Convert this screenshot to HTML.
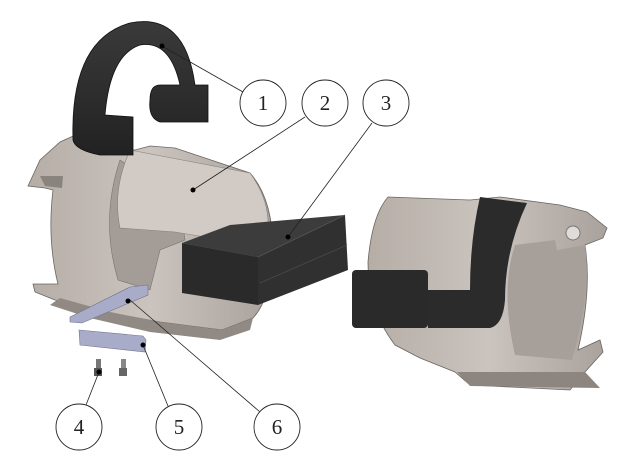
<!DOCTYPE html>
<html><head><meta charset="utf-8"><style>
html,body{margin:0;padding:0;background:#fff;width:633px;height:473px;overflow:hidden}
svg{display:block}
text{font-family:"Liberation Serif",serif;font-size:21px;fill:#222}
</style></head><body>
<svg width="633" height="473" viewBox="0 0 633 473">
<defs>
<linearGradient id="g1" x1="0" y1="0" x2="1" y2="0"><stop offset="0" stop-color="#b5ada6"/><stop offset="0.5" stop-color="#cbc4be"/><stop offset="1" stop-color="#a9a19b"/></linearGradient>
<linearGradient id="gk" x1="0" y1="0" x2="0" y2="1"><stop offset="0" stop-color="#3a3a3a"/><stop offset="1" stop-color="#222"/></linearGradient>
</defs>
<!-- left body -->
<path d="M28,186 L40,160 L60,142 L80,133 L100,150 L135,150 L150,146 L175,148 L250,173 Q274,200 273,255 Q270,300 253,318 L222,330 L160,322 L110,313 L80,306 L55,300 L35,292 L33,284 L58,284 Q47,240 53,190 L45,188 Z" fill="url(#g1)" stroke="#6a6560" stroke-width="0.8"/>
<path d="M40,176 L63,176 L62,188 L45,186 Z" fill="#8a847f"/>
<path d="M120,160 Q100,220 118,280 L150,290 L160,250 L185,240 L180,200 Z" fill="#a49c96" stroke="#7a746f" stroke-width="0.6"/>
<path d="M130,150 L250,173 Q270,200 268,230 L205,237 L175,232 L120,228 Q112,190 130,150 Z" fill="#d2cbc5" stroke="#857f7a" stroke-width="0.6"/>
<path d="M60,298 L110,312 L160,322 L222,330 L253,318 L250,330 L220,340 L150,332 L90,318 L50,305 Z" fill="#918a84"/>
<!-- black block 3 -->
<path d="M182,243 L230,225 L345,215 L258,257 Z" fill="#3c3c3c"/>
<path d="M182,243 L258,257 L258,305 L182,293 Z" fill="#2a2a2a"/>
<path d="M258,257 L345,215 L348,270 L258,305 Z" fill="#303030"/>
<path d="M258,257 L345,215" stroke="#555" stroke-width="0.8"/>
<path d="M260,283 L347,245" stroke="#4a4a4a" stroke-width="0.8"/>
<!-- bars -->
<path d="M70,317 L130,287 L148,285 L148,295 L82,323 L70,322 Z" fill="#a8acc8" stroke="#70748e" stroke-width="0.6"/>
<path d="M79,330 L143,336 L146,340 L145,352 L80,345 Z" fill="#a8acc8" stroke="#70748e" stroke-width="0.6"/>
<rect x="96" y="359" width="5" height="14" fill="#777"/><rect x="94" y="368" width="8" height="8" fill="#555"/>
<rect x="121" y="359" width="5" height="14" fill="#888"/><rect x="119" y="368" width="8" height="8" fill="#666"/>
<!-- clamp -->
<path d="M73,140 Q70,40 130,23 Q185,12 195,85 L208,85 L208,122 L160,122 Q148,118 150,100 Q150,85 160,85 L180,85 Q170,40 140,45 Q110,55 105,115 L133,117 L133,155 L100,155 Q75,150 73,140 Z" fill="url(#gk)" stroke="#111" stroke-width="0.8"/>
<!-- right body -->
<path d="M368,262 Q372,215 388,197 L470,200 L500,197 L560,205 L587,212 L607,228 L603,238 L585,245 Q592,290 578,350 L600,340 L603,352 L585,372 L570,390 L470,385 L455,372 L420,358 L395,345 Q368,310 368,262 Z" fill="url(#g1)" stroke="#6a6560" stroke-width="0.8"/>
<path d="M515,245 Q500,290 515,355 L572,360 Q592,290 585,245 L557,250 L555,240 L515,245 Z" fill="#a7a09a"/>
<path d="M480,197 L527,203 Q505,250 505,300 Q503,325 490,328 L428,328 L428,290 L470,290 Q470,240 480,197 Z" fill="#2b2b2b"/>
<rect x="352" y="270" width="76" height="58" rx="4" fill="#2a2a2a"/>
<circle cx="573" cy="233" r="7" fill="#e0dcd8" stroke="#777"/>
<path d="M457,372 L585,372 L600,388 L470,386 Z" fill="#8d8680"/>
<!-- leaders -->
<g stroke="#222" stroke-width="0.8" fill="none">
<line x1="162" y1="46" x2="243" y2="92"/>
<line x1="193" y1="190" x2="305" y2="117"/>
<line x1="288" y1="237" x2="372" y2="123"/>
<line x1="99" y1="372" x2="86" y2="405"/>
<line x1="143" y1="345" x2="168" y2="406"/>
<line x1="130" y1="300" x2="260" y2="412"/>
</g>
<g fill="#000"><circle cx="162" cy="46" r="2.5"/><circle cx="193" cy="190" r="2.5"/><circle cx="288" cy="237" r="2.5"/><circle cx="99" cy="372" r="2.5"/><circle cx="143" cy="345" r="2.5"/><circle cx="128" cy="301" r="2.5"/></g>
<g fill="#fff" stroke="#222" stroke-width="0.9">
<circle cx="263" cy="103" r="23"/><circle cx="325" cy="103" r="23"/><circle cx="386" cy="103" r="23"/>
<circle cx="79" cy="427" r="23"/><circle cx="179" cy="427" r="23"/><circle cx="277" cy="427" r="23"/>
</g>
<g text-anchor="middle">
<text x="263" y="110">1</text><text x="325" y="110">2</text><text x="386" y="110">3</text>
<text x="79" y="434">4</text><text x="179" y="434">5</text><text x="277" y="434">6</text>
</g>
</svg>
</body></html>
